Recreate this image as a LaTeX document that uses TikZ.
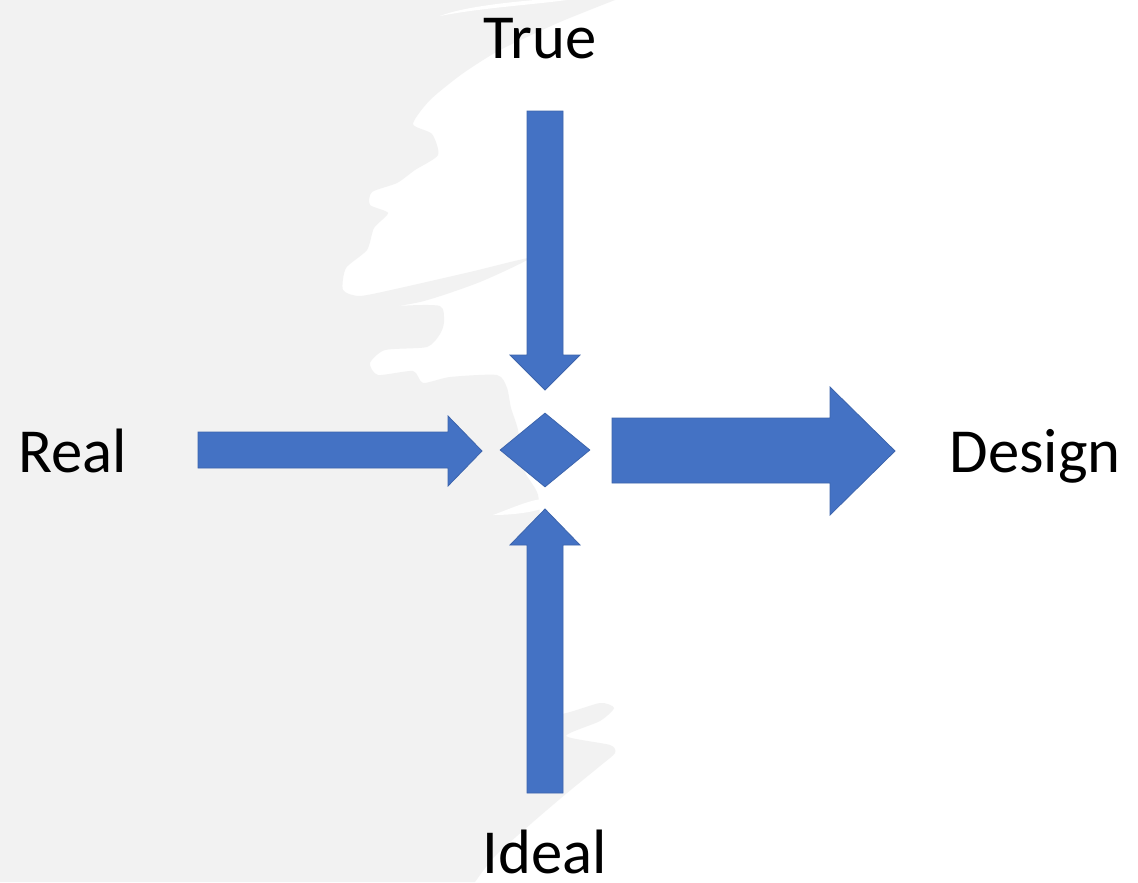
\documentclass[tikz,border=0pt]{standalone}
\usepackage{fontspec}
\setmainfont{Carlito}
\usetikzlibrary{shapes.geometric}
\definecolor{bgray}{HTML}{F2F2F2}
\definecolor{oblue}{HTML}{4472C4}
\begin{document}
\begin{tikzpicture}[x=0.75pt,y=-0.75pt,
  lbl/.style={font=\fontsize{47}{56}\selectfont, text=black, inner sep=0pt, anchor=base},
  blk/.style={fill=oblue, draw=oblue!88!black, line width=0.6pt, line join=miter}]
\useasboundingbox (0,0) rectangle (1138,882);
\fill[white] (0,0) rectangle (1138,882);
% gray brushed background on the left
\fill[bgray] (0,0) -- (615,0) -- plot[smooth, tension=0.4] coordinates {
  (615,0) (560,22) (500,50) (462,74) (430,100) (413,124) (432,134) (438,155)
  (415,170) (397,183) (372,192) (370,205) (388,213) (374,228) (367,250)
  (346,268) (343,290) (360,296) (400,288) (470,272) (530,258) (480,282)
  (420,302) (345,314) (400,306) (440,306) (444,322) (440,334) (427,347)
  (385,350) (370,363) (378,375) (413,371) (423,383) (450,377) (497,375)
  (507,388) (511,408) (518,430) (524,470) (538,495) (540,540) (540,700)
  (560,714) (600,703) (614,708) (600,721) (566,736) (610,745) (615,753)
  (600,766) (567,793) (533,822) (495,856) (475,882)} -- (0,882) -- cycle;
% white brush streaks
\fill[white] (440,16) .. controls (480,8) and (530,5) .. (567,0) -- (535,0) .. controls (500,3) and (460,8) .. cycle;
\fill[white] (493,515) .. controls (520,505) and (540,495) .. (557,500) .. controls (550,510) and (520,515) .. cycle;
\fill[white] (533,822) .. controls (545,815) and (560,812) .. (573,816) .. controls (560,822) and (545,826) .. cycle;
% labels
\node[lbl] (true) at (540,58) {True};
\node[lbl] (real) at (73,472) {Real};
\node[lbl] (design) at (1035,472) {Design};
\node[lbl] (ideal) at (545,873) {Ideal};
% hub diamond
\node[blk, diamond, inner sep=0pt, minimum width=67.5pt, minimum height=55.5pt] (hub) at (545,450) {};
% block arrows
\draw[blk] (527,111) -- (563,111) -- (563,355) -- (580,355) -- (545,390) -- (510,355) -- (527,355) -- cycle;
\draw[blk] (527,793) -- (563,793) -- (563,545) -- (580,545) -- (545,509) -- (510,545) -- (527,545) -- cycle;
\draw[blk] (198,432) -- (448,432) -- (448,416) -- (482,451) -- (448,486) -- (448,468) -- (198,468) -- cycle;
\draw[blk] (612,418) -- (830,418) -- (830,387) -- (895,451) -- (830,515) -- (830,483) -- (612,483) -- cycle;
\end{tikzpicture}
\end{document}
